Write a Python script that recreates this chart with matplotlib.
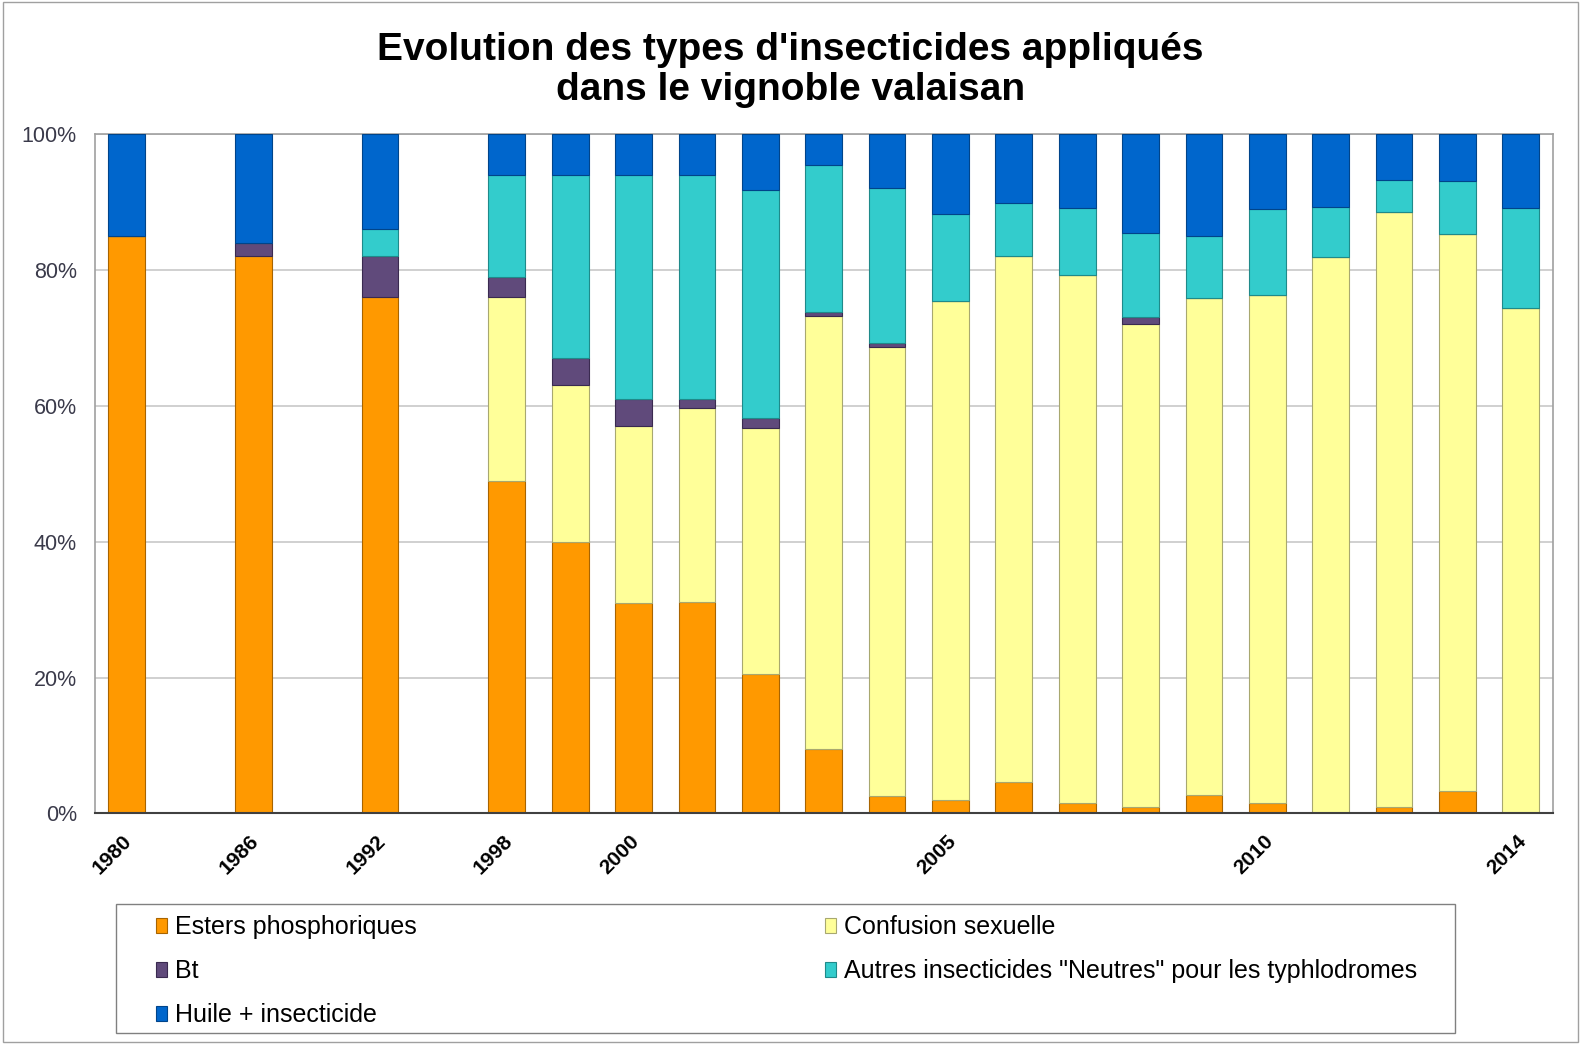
import matplotlib.pyplot as plt
from matplotlib.patches import Rectangle
from matplotlib.transforms import ScaledTranslation
import numpy as np

plt.rcParams['font.family'] = ['Liberation Sans', 'DejaVu Sans']

# x slots (empty labels are the gaps between the early years)
years = ['1980', '', '1986', '', '1992', '', '1998', '1999', '2000', '2001', '2002',
         '2003', '2004', '2005', '2006', '2007', '2008', '2009', '2010', '2011',
         '2012', '2013', '2014']
shown_labels = ['1980', '1986', '1992', '1998', '2000', '2005', '2010', '2014']

# shares in %
esters = [85, 0, 82, 0, 76, 0, 49, 40, 31, 31.2, 20.6, 9.5, 2.6, 2.0, 4.6, 1.6, 0.9, 2.7, 1.5, 0, 0.9, 3.3, 0]
confusion = [0, 0, 0, 0, 0, 0, 27, 23, 26, 28.5, 36.2, 63.7, 66.1, 73.4, 77.4, 77.6, 71.2, 73.1, 74.8, 81.9, 87.6, 82.0, 74.4]
bt = [0, 0, 2, 0, 6, 0, 3, 4, 4, 1.3, 1.4, 0.6, 0.6, 0, 0, 0, 1.0, 0, 0, 0, 0, 0, 0]
autres = [0, 0, 0, 0, 4, 0, 15, 27, 33, 32.9, 33.5, 21.6, 22.8, 12.9, 7.8, 9.9, 12.4, 9.2, 12.6, 7.4, 4.7, 7.8, 14.7]
huile = [15, 0, 16, 0, 14, 0, 6, 6, 6, 6.1, 8.3, 4.6, 7.9, 11.7, 10.2, 10.9, 14.5, 15.0, 11.1, 10.7, 6.8, 6.9, 10.9]

series = [
    ('Esters phosphoriques', esters, '#FF9900', '#A86400'),
    ('Confusion sexuelle', confusion, '#FFFF99', '#A8A870'),
    ('Bt', bt, '#604A7B', '#3A2A50'),
    ('Autres insecticides "Neutres" pour les typhlodromes', autres, '#33CCCC', '#1F8A8A'),
    ('Huile + insecticide', huile, '#0066CC', '#00448A'),
]

fig = plt.figure(figsize=(15.81, 10.44), dpi=100)
ax = fig.add_axes([0.060, 0.2208, 0.922, 0.6508])

x = np.arange(len(years))
bottom = np.zeros(len(years))
handles = {}
for name, vals, col, edge in series:
    vals = np.array(vals, dtype=float)
    b = ax.bar(x, vals, bottom=bottom, width=0.58, color=col, edgecolor=edge,
               linewidth=0.8, label=name, zorder=3)
    handles[name] = b
    bottom += vals

ax.set_xlim(-0.5, len(years) - 0.5)
ax.set_ylim(0, 100)
ax.set_yticks([0, 20, 40, 60, 80, 100])
ax.set_yticklabels(['0%', '20%', '40%', '60%', '80%', '100%'])
ax.tick_params(axis='y', length=0, labelsize=15.5, labelcolor='#3a3a4a', pad=13)
ax.grid(axis='y', color='#c8c8c8', linewidth=1.2, zorder=0)

tick_pos = [i for i, y in enumerate(years) if y in shown_labels]
ax.set_xticks(tick_pos)
ax.set_xticklabels([years[i] for i in tick_pos], rotation=45, ha='right',
                   rotation_mode='anchor', fontsize=15, fontweight='bold')
ax.tick_params(axis='x', length=0, pad=13)
shift = ScaledTranslation(-3 / 72, 0, fig.dpi_scale_trans)
for lab in ax.get_xticklabels():
    lab.set_transform(lab.get_transform() + shift)

for s in ['top', 'right', 'left']:
    ax.spines[s].set_color('#a0a0a0')
    ax.spines[s].set_linewidth(1.2)
ax.spines['bottom'].set_color('#404040')
ax.spines['bottom'].set_linewidth(1.5)
ax.spines['bottom'].set_zorder(4)

fig.text(0.5, 0.933, "Evolution des types d'insecticides appliqués\ndans le vignoble valaisan",
         ha='center', va='center', fontsize=28, fontweight='bold', linespacing=1.13)

# legend: two columns drawn as two frameless legends inside one box
col1 = ['Esters phosphoriques', 'Bt', 'Huile + insecticide']
col2 = ['Confusion sexuelle', 'Autres insecticides "Neutres" pour les typhlodromes']
leg_kw = dict(loc='upper left', bbox_transform=fig.transFigure, fontsize=18, frameon=False,
              handlelength=0.45, handleheight=0.55, handletextpad=0.3, labelspacing=0.8,
              borderpad=0, borderaxespad=0)
leg1 = fig.legend([handles[n] for n in col1], col1, bbox_to_anchor=(0.0987, 0.1236), **leg_kw)
leg2 = fig.legend([handles[n] for n in col2], col2, bbox_to_anchor=(0.5218, 0.1236), **leg_kw)

fig.patches.append(Rectangle((0.0734, 0.0105), 0.847, 0.1236, transform=fig.transFigure,
                             fill=False, edgecolor='#808080', linewidth=1.0))
fig.patches.append(Rectangle((0.002, 0.002), 0.996, 0.996, transform=fig.transFigure,
                             fill=False, edgecolor='#a0a0a0', linewidth=1.0))

fig.savefig('out.png', dpi=100)
